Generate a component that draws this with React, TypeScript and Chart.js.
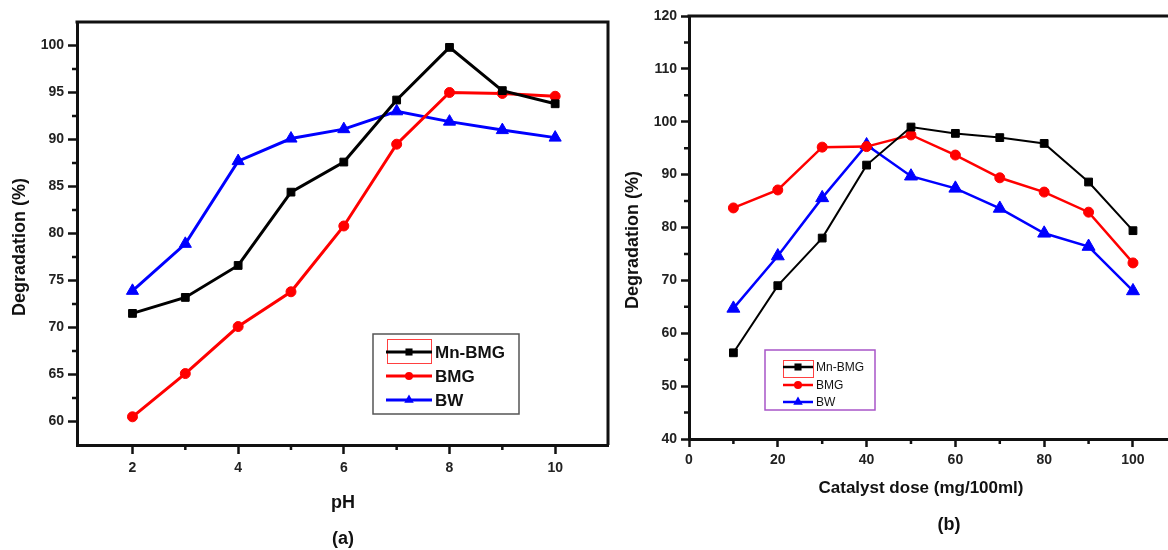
import { useEffect, useRef } from "react";
import { Chart, registerables } from "chart.js";
Chart.register(...registerables);

// ---------- data ----------
const seriesNames = ["Mn-BMG", "BMG", "BW"];
const seriesColors = ["#000000", "#ff0000", "#0000ff"];
const seriesStyles = ["rect", "circle", "triangle"];

const phValues = [2, 3, 4, 5, 6, 7, 8, 9, 10];
const phMnBMG = [71.5, 73.2, 76.6, 84.4, 87.6, 94.2, 99.8, 95.2, 93.8];
const phBMG = [60.5, 65.1, 70.1, 73.8, 80.8, 89.5, 95.0, 94.9, 94.6];
const phBW = [73.9, 78.9, 87.7, 90.1, 91.1, 93.0, 91.9, 91.0, 90.2];
const phXTicks = [2, 4, 6, 8, 10];
const phXMinor = [3, 5, 7, 9];
const phYTicks = [60, 65, 70, 75, 80, 85, 90, 95, 100];
const phYMinor = [62.5, 67.5, 72.5, 77.5, 82.5, 87.5, 92.5, 97.5];

const doseValues = [10, 20, 30, 40, 50, 60, 70, 80, 90, 100];
const doseMnBMG = [56.3, 69.0, 78.0, 91.8, 99.0, 97.8, 97.0, 95.9, 88.6, 79.4];
const doseBMG = [83.7, 87.1, 95.2, 95.3, 97.5, 93.7, 89.4, 86.7, 82.9, 73.3];
const doseBW = [64.7, 74.6, 85.6, 95.6, 89.7, 87.4, 83.6, 78.9, 76.4, 68.0];
const doseXTicks = [0, 20, 40, 60, 80, 100];
const doseXMinor = [10, 30, 50, 70, 90];
const doseYTicks = [40, 50, 60, 70, 80, 90, 100, 110, 120];
const doseYMinor = [45, 55, 65, 75, 85, 95, 105, 115];

const FONT = '"Liberation Sans", Arial, sans-serif';
const AXIS = "#111111";

function drawMarker(ctx: CanvasRenderingContext2D, style: string, x: number, y: number, r: number, color: string) {
  ctx.save();
  ctx.fillStyle = color;
  ctx.beginPath();
  if (style === "rect") {
    const s = Math.SQRT1_2 * r;
    ctx.rect(x - s, y - s, 2 * s, 2 * s);
  } else if (style === "circle") {
    ctx.arc(x, y, r, 0, Math.PI * 2);
  } else {
    ctx.moveTo(x, y - r);
    ctx.lineTo(x + r * 0.866, y + r * 0.5);
    ctx.lineTo(x - r * 0.866, y + r * 0.5);
    ctx.closePath();
  }
  ctx.fill();
  ctx.restore();
}

type DecorCfg = {
  minorX: number[];
  minorY: number[];
  minorLen: number;
  rightBorder: boolean;
  xTitle: string; xTitleX: number; xTitleY: number; xTitleFont: string;
  panel: string; panelX: number; panelY: number;
  yTitleX: number; yTitleY: number; yTitleFont: string;
  legend: {
    left: number; top: number; width: number; height: number; border: string; borderWidth: number;
    rows: number[]; lineX1: number; lineX2: number; textX: number; font: string; lineWidth: number;
    radii: number[]; redBox: [number, number, number, number];
  };
};

function makeDecor(cfg: DecorCfg) {
  return {
    id: "decor",
    afterDraw(chart: any) {
      const { ctx, chartArea: a } = chart;
      const xs = chart.scales.x;
      const ys = chart.scales.y;
      ctx.save();
      // top / right border
      ctx.strokeStyle = AXIS;
      ctx.lineWidth = 3;
      ctx.beginPath();
      ctx.moveTo(a.left - 1.5, a.top);
      ctx.lineTo(a.right + (cfg.rightBorder ? 1.5 : 0), a.top);
      if (cfg.rightBorder) {
        ctx.moveTo(a.right, a.top);
        ctx.lineTo(a.right, a.bottom);
      }
      ctx.stroke();
      // minor ticks
      ctx.lineWidth = 2.5;
      ctx.beginPath();
      for (const v of cfg.minorX) {
        const px = xs.getPixelForValue(v);
        ctx.moveTo(px, a.bottom);
        ctx.lineTo(px, a.bottom + cfg.minorLen);
      }
      for (const v of cfg.minorY) {
        const py = ys.getPixelForValue(v);
        ctx.moveTo(a.left, py);
        ctx.lineTo(a.left - cfg.minorLen, py);
      }
      ctx.stroke();
      // titles
      ctx.fillStyle = "#111";
      ctx.textAlign = "center";
      ctx.textBaseline = "middle";
      ctx.font = cfg.xTitleFont;
      ctx.fillText(cfg.xTitle, cfg.xTitleX, cfg.xTitleY);
      ctx.font = "bold 18px " + FONT;
      ctx.fillText(cfg.panel, cfg.panelX, cfg.panelY);
      ctx.save();
      ctx.translate(cfg.yTitleX, cfg.yTitleY);
      ctx.rotate(-Math.PI / 2);
      ctx.font = cfg.yTitleFont;
      ctx.fillText("Degradation (%)", 0, 0);
      ctx.restore();
      // legend
      const L = cfg.legend;
      ctx.fillStyle = "#fff";
      ctx.fillRect(L.left, L.top, L.width, L.height);
      ctx.strokeStyle = L.border;
      ctx.lineWidth = L.borderWidth;
      ctx.strokeRect(L.left, L.top, L.width, L.height);
      ctx.strokeStyle = "#ff4040";
      ctx.lineWidth = 1;
      ctx.strokeRect(L.redBox[0], L.redBox[1], L.redBox[2], L.redBox[3]);
      for (let i = 0; i < seriesNames.length; i++) {
        const y = L.rows[i];
        ctx.strokeStyle = seriesColors[i];
        ctx.lineWidth = L.lineWidth;
        ctx.beginPath();
        ctx.moveTo(L.lineX1, y);
        ctx.lineTo(L.lineX2, y);
        ctx.stroke();
        drawMarker(ctx, seriesStyles[i], (L.lineX1 + L.lineX2) / 2, y, L.radii[i], seriesColors[i]);
        ctx.fillStyle = "#111";
        ctx.textAlign = "left";
        ctx.textBaseline = "middle";
        ctx.font = L.font;
        ctx.fillText(seriesNames[i], L.textX, y + 1);
      }
      ctx.restore();
    },
  };
}

function buildChart(
  canvas: HTMLCanvasElement,
  xVals: number[],
  series: number[][],
  opts: {
    xMin: number; xMax: number; yMin: number; yMax: number;
    xTicks: number[]; yTicks: number[];
    padding: any; yWidth: number; xHeight: number;
    lineWidths: number[]; radii: number[];
    tickLen: number; xPad: number; yPad: number;
  },
  decor: DecorCfg
) {
  const datasets = series.map((vals, i) => ({
    label: seriesNames[i],
    data: xVals.map((x, j) => ({ x, y: vals[j] })),
    borderColor: seriesColors[i],
    backgroundColor: seriesColors[i],
    pointBackgroundColor: seriesColors[i],
    pointBorderColor: seriesColors[i],
    pointBorderWidth: 1,
    borderWidth: opts.lineWidths[i],
    pointStyle: seriesStyles[i] as any,
    pointRadius: opts.radii[i],
    tension: 0,
    clip: false as any,
  }));
  const tickFont = { family: FONT, size: 14, weight: "bold" as any };
  return new Chart(canvas, {
    type: "line",
    data: { datasets },
    options: {
      animation: false,
      responsive: false,
      devicePixelRatio: 1,
      layout: { padding: opts.padding },
      plugins: { legend: { display: false }, tooltip: { enabled: false } },
      scales: {
        x: {
          type: "linear",
          min: opts.xMin,
          max: opts.xMax,
          afterBuildTicks: (s: any) => { s.ticks = opts.xTicks.map((v) => ({ value: v })); },
          afterFit: (s: any) => { s.height = opts.xHeight; },
          ticks: { font: tickFont, color: "#222", padding: opts.xPad, maxRotation: 0, autoSkip: false },
          grid: { drawOnChartArea: false, drawTicks: true, tickLength: opts.tickLen, tickWidth: 2.5, tickColor: AXIS, color: AXIS },
          border: { display: true, width: 3, color: AXIS },
        },
        y: {
          type: "linear",
          min: opts.yMin,
          max: opts.yMax,
          afterBuildTicks: (s: any) => { s.ticks = opts.yTicks.map((v) => ({ value: v })); },
          afterFit: (s: any) => { s.width = opts.yWidth; },
          ticks: { font: tickFont, color: "#222", padding: opts.yPad, autoSkip: false },
          grid: { drawOnChartArea: false, drawTicks: true, tickLength: opts.tickLen, tickWidth: 2.5, tickColor: AXIS, color: AXIS },
          border: { display: true, width: 3, color: AXIS },
        },
      },
    },
    plugins: [makeDecor(decor)],
  });
}

export default function App() {
  const refA = useRef<HTMLCanvasElement>(null);
  const refB = useRef<HTMLCanvasElement>(null);

  useEffect(() => {
    const a = buildChart(
      refA.current!,
      phValues,
      [phMnBMG, phBMG, phBW],
      {
        xMin: 0.95, xMax: 11, yMin: 57.5, yMax: 102.5,
        xTicks: phXTicks, yTicks: phYTicks,
        padding: { left: 0, right: 12, top: 22, bottom: 0 },
        yWidth: 77, xHeight: 105,
        lineWidths: [3, 3, 3], radii: [5.5, 5, 7],
        tickLen: 9, xPad: 6, yPad: 4,
      },
      {
        minorX: phXMinor, minorY: phYMinor, minorLen: 5, rightBorder: true,
        xTitle: "pH", xTitleX: 343, xTitleY: 503, xTitleFont: "bold 18px " + FONT,
        panel: "(a)", panelX: 343, panelY: 539,
        yTitleX: 20, yTitleY: 247, yTitleFont: "bold 18px " + FONT,
        legend: {
          left: 373, top: 334, width: 146, height: 80, border: "#555", borderWidth: 1.5,
          rows: [352, 376, 400], lineX1: 386, lineX2: 432, textX: 435,
          font: "bold 17px " + FONT, lineWidth: 3, radii: [5, 4, 5.5],
          redBox: [387.5, 339.5, 44, 24],
        },
      }
    );
    const b = buildChart(
      refB.current!,
      doseValues,
      [doseMnBMG, doseBMG, doseBW],
      {
        xMin: 0, xMax: 108, yMin: 40, yMax: 120,
        xTicks: doseXTicks, yTicks: doseYTicks,
        padding: { left: 0, right: 0, top: 16, bottom: 0 },
        yWidth: 69, xHeight: 111,
        lineWidths: [2, 2.5, 2.5], radii: [5.5, 5, 7.5],
        tickLen: 8, xPad: 5, yPad: 4,
      },
      {
        minorX: doseXMinor, minorY: doseYMinor, minorLen: 5, rightBorder: false,
        xTitle: "Catalyst dose (mg/100ml)", xTitleX: 301, xTitleY: 488, xTitleFont: "bold 17px " + FONT,
        panel: "(b)", panelX: 329, panelY: 525,
        yTitleX: 13, yTitleY: 240, yTitleFont: "bold 18px " + FONT,
        legend: {
          left: 145, top: 350, width: 110, height: 60, border: "#a855c8", borderWidth: 1.5,
          rows: [367, 385, 402], lineX1: 163, lineX2: 193, textX: 196,
          font: "12px " + FONT, lineWidth: 2.5, radii: [5, 4, 5.5],
          redBox: [163.5, 360.5, 30, 17],
        },
      }
    );
    return () => { a.destroy(); b.destroy(); };
  }, []);

  return (
    <div style={{ position: "absolute", left: 0, top: 0, width: 1168, height: 550, background: "#fff", overflow: "hidden" }}>
      <canvas ref={refA} width={620} height={550} style={{ position: "absolute", left: 0, top: 0, width: 620, height: 550 }} />
      <canvas ref={refB} width={557} height={550} style={{ position: "absolute", left: 620, top: 0, width: 557, height: 550 }} />
    </div>
  );
}
